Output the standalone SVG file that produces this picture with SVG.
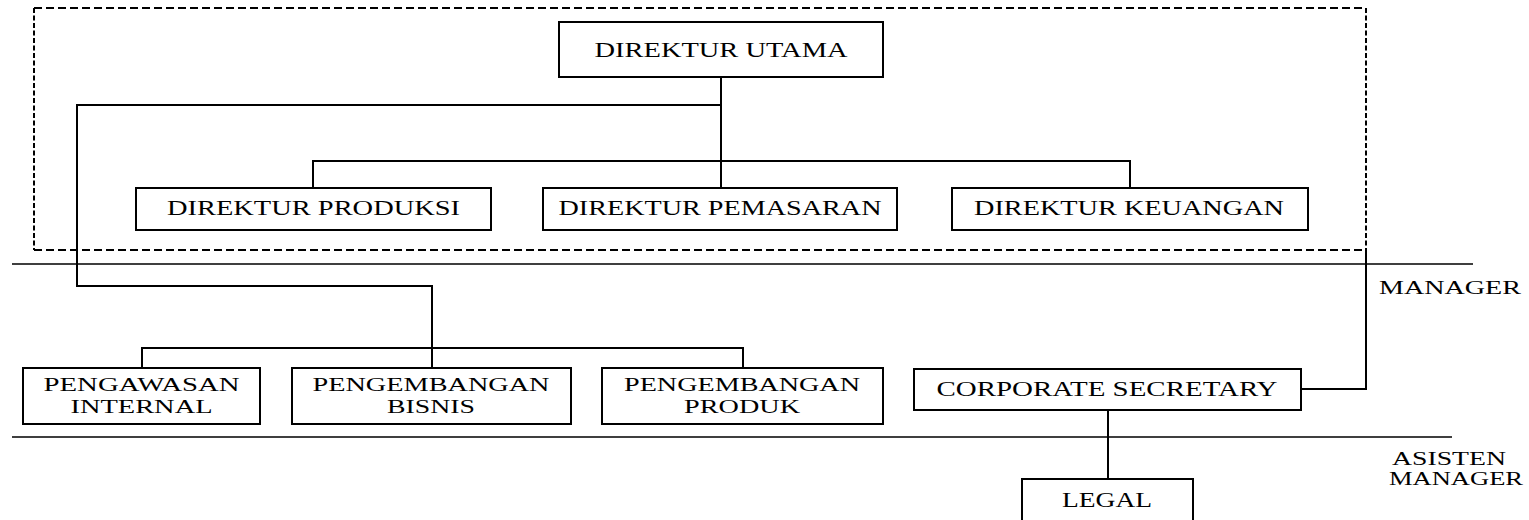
<svg xmlns="http://www.w3.org/2000/svg" width="1529" height="520" viewBox="0 0 1529 520">
<style>
.box{fill:#fff;stroke:#000;stroke-width:2}
.con{fill:none;stroke:#000;stroke-width:2}
.sep{fill:none;stroke:#000;stroke-width:1.6}
.dh{fill:none;stroke:#000;stroke-width:2;stroke-dasharray:8 4}
.dv{fill:none;stroke:#000;stroke-width:2;stroke-dasharray:5 2.5}
text{font-family:"Liberation Serif","Times New Roman",serif;font-size:19px;fill:#000;text-anchor:middle}
.t21{font-size:21px}
.t20{font-size:20px}
</style>
<rect width="1529" height="520" fill="#fff"/>
<g id="board-frame">
<path class="dh" d="M34 8 H1366 M34 250 H1366"/>
<path class="dv" d="M34 8 V250 M1366 8 V250"/>
</g>
<g id="levels">
<path class="sep" d="M12 264 H1473 M12 437 H1452"/>
<text x="1450" y="294" textLength="142" lengthAdjust="spacingAndGlyphs">MANAGER</text>
<text x="1449" y="465" textLength="114" lengthAdjust="spacingAndGlyphs">ASISTEN</text>
<text x="1456" y="485" textLength="134" lengthAdjust="spacingAndGlyphs">MANAGER</text>
</g>
<g id="connectors">
<path class="con" d="M721 77 V188"/>
<path class="con" d="M721 105 H77 V286 H432 V368"/>
<path class="con" d="M313 188 V161 H1130 V188"/>
<path class="con" d="M142 368 V348 H743 V368"/>
<path class="con" d="M1366 250 V389 H1301"/>
<path class="con" d="M1108 410 V479"/>
</g>
<g id="direktur-utama">
<rect class="box" x="559" y="22" width="324" height="55"/>
<text class="t21" x="721" y="57" textLength="253" lengthAdjust="spacingAndGlyphs">DIREKTUR UTAMA</text>
</g>
<g id="direktur-produksi">
<rect class="box" x="136" y="188" width="355" height="42"/>
<text class="t20" x="313.5" y="215" textLength="293" lengthAdjust="spacingAndGlyphs">DIREKTUR PRODUKSI</text>
</g>
<g id="direktur-pemasaran">
<rect class="box" x="543" y="188" width="354" height="42"/>
<text class="t20" x="720" y="215" textLength="323" lengthAdjust="spacingAndGlyphs">DIREKTUR PEMASARAN</text>
</g>
<g id="direktur-keuangan">
<rect class="box" x="952" y="188" width="356" height="42"/>
<text class="t20" x="1129" y="215" textLength="310" lengthAdjust="spacingAndGlyphs">DIREKTUR KEUANGAN</text>
</g>
<g id="pengawasan-internal">
<rect class="box" x="23" y="368" width="237" height="56"/>
<text x="141.5" y="391" textLength="196" lengthAdjust="spacingAndGlyphs">PENGAWASAN</text>
<text x="141.5" y="413" textLength="142" lengthAdjust="spacingAndGlyphs">INTERNAL</text>
</g>
<g id="pengembangan-bisnis">
<rect class="box" x="292" y="368" width="279" height="56"/>
<text x="431" y="391" textLength="237" lengthAdjust="spacingAndGlyphs">PENGEMBANGAN</text>
<text x="431" y="413" textLength="88" lengthAdjust="spacingAndGlyphs">BISNIS</text>
</g>
<g id="pengembangan-produk">
<rect class="box" x="602" y="368" width="281" height="56"/>
<text x="742" y="391" textLength="236" lengthAdjust="spacingAndGlyphs">PENGEMBANGAN</text>
<text x="742" y="413" textLength="116" lengthAdjust="spacingAndGlyphs">PRODUK</text>
</g>
<g id="corporate-secretary">
<rect class="box" x="914" y="369" width="387" height="41"/>
<text class="t20" x="1107" y="396" textLength="341" lengthAdjust="spacingAndGlyphs">CORPORATE SECRETARY</text>
</g>
<g id="legal">
<rect class="box" x="1022" y="479" width="171" height="50"/>
<text class="t20" x="1107" y="507" textLength="90" lengthAdjust="spacingAndGlyphs">LEGAL</text>
</g>
</svg>
